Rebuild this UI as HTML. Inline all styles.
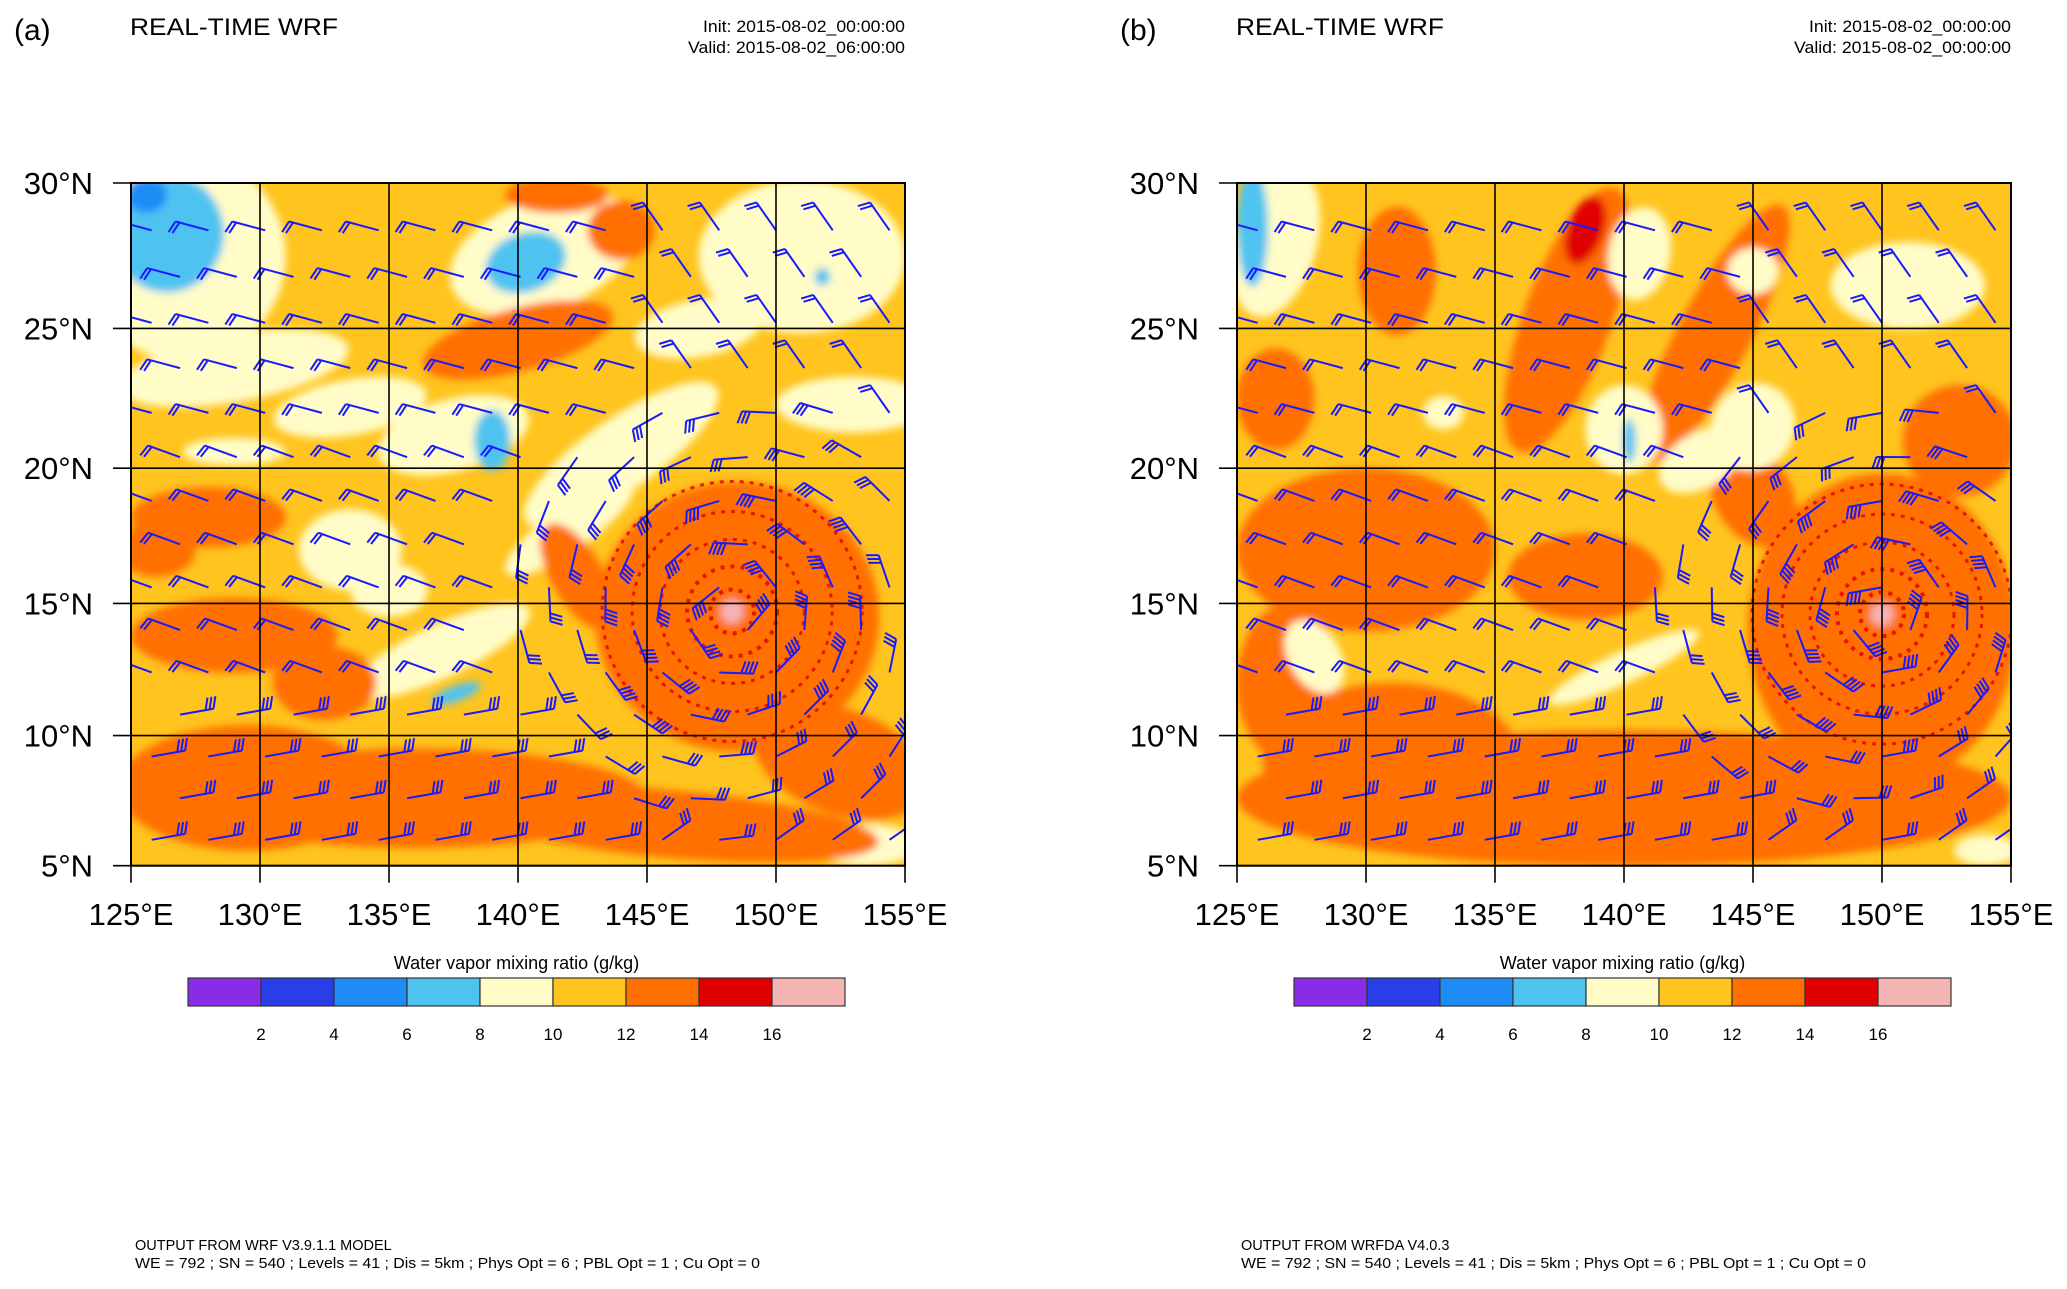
<!DOCTYPE html>
<html><head><meta charset="utf-8"><style>
html,body{margin:0;padding:0;background:#fff;}
svg{display:block;font-family:"Liberation Sans",sans-serif;}
</style></head><body>
<svg id="fig" width="2067" height="1289" viewBox="0 0 2067 1289" xmlns="http://www.w3.org/2000/svg">
<defs>
<filter id="blur" x="-10%" y="-10%" width="120%" height="120%"><feGaussianBlur stdDeviation="4"/></filter>
<clipPath id="clipA"><rect x="131" y="183" width="774" height="683"/></clipPath>
<clipPath id="clipB"><rect x="1237" y="183" width="774" height="683"/></clipPath>
</defs>
</svg>
<script>
const NS='http://www.w3.org/2000/svg';
const svg=document.getElementById('fig');
// colour levels (g/kg)
const levelLabels=['2','4','6','8','10','12','14','16'];
const levelColors=['#8a2be8','#2a3ee8','#1e8cf5','#4fc3f0','#fffcc8','#ffc41e','#ff7000','#e00000','#f5b4b4'];
const lonTicks=[125,130,135,140,145,150,155];
const latTicks=[5,10,15,20,25,30];
// field features: [lon, lat, rxDeg, ryDeg, rotation, levelIndex]
const blobsA=[
[127,27.5,4,3.5,0,4],[129,23.6,4.5,1.2,-10,4],[133.5,22.2,3,1,-10,4],[129,20.6,2,0.5,0,4],[137.5,21.2,3,1.3,-15,4],
[141,27.6,3.8,1.9,-20,4],[144,20.5,4.5,1.3,-35,4],[142,17.8,3,0.8,-35,4],[137,13.2,3.8,1,-25,4],[133.5,17,2,1.5,0,4],
[151,27.5,4,2.6,0,4],[153,22.3,3,1,0,4],[147,25,2.5,1,-10,4],[153.5,5.8,2,0.8,0,4],[135,15.5,1.5,1,0,4],
[126.4,28.3,2.2,2,0,3],[140.3,27.3,1.6,1,-20,3],[139,21,0.7,1.1,0,3],[137.6,11.6,1,0.3,-20,3],[151.8,26.8,0.3,0.3,0,3],[125.6,29.6,0.8,0.6,0,2],
[140,24.6,3.8,1.1,-15,6],[141.5,29.6,2,0.6,0,6],[144,28.4,1.3,1,0,6],[128,18.2,3,1.1,0,6],[126,17,1.5,1,0,6],[129,13.8,4,1.4,0,6],
[132.5,12,2,1.4,0,6],[136,7.6,9,1.9,0,6],[129.5,8,5,2.4,0,6],[148.5,14.5,5.5,5,0,6],[152.5,9,3.5,2,20,6],[146,6.6,8,1.3,5,6],[142.3,16,1,2.2,-30,6],
[148.3,14.7,0.45,0.45,0,8]];
const blobsB=[
[137.8,25.3,1.7,4.8,20,6],[143.5,24.8,1.4,5,28,6],[131.2,27,1.5,2.2,0,6],[126.5,22.5,1.5,1.8,0,6],[130,17,5,3,0,6],[138.5,16,3,1.6,0,6],[140,7.6,15,2.6,0,6],
[150,14,5.2,5.8,0,6],[127,12,2,3,0,6],[153,21,2.2,2,0,6],[145,19,1.5,2,-30,6],[131,9,5,3,0,6],
[138.5,28.4,0.7,1.2,20,7],
[126.5,28,1.6,2.6,15,4],[140.6,27.6,1.2,1.6,10,4],[145,27,1,0.8,0,4],[140,21.4,1.5,1.6,0,4],[145,21.5,1.6,1.6,30,4],[151,26.5,3,1.5,0,4],
[133,22,0.8,0.6,0,4],[143,20.3,1.8,1,-30,4],[140,12.6,3.2,0.6,-25,4],[128,13,1,1.5,-30,4],[154,5.6,1.2,0.6,0,4],
[125.6,28.5,0.6,2,0,3],[140.2,21,0.25,0.8,0,3],[150,14.6,0.45,0.45,0,8]];
// cyclone centres [lon, lat]
const cycA=[148.3,14.7], cycB=[150,14.6];

function el(tag,attrs,parent){const e=document.createElementNS(NS,tag);for(const k in attrs)e.setAttribute(k,attrs[k]);(parent||svg).appendChild(e);return e;}
const PX=1478, TOP=183, W=774, M30=Math.log(Math.tan(Math.PI/4+30*Math.PI/360));
function merc(lat){return Math.log(Math.tan(Math.PI/4+lat*Math.PI/360));}
function makeProj(x0){return {x:lon=>x0+(lon-125)/30*W, y:lat=>TOP+(M30-merc(lat))*PX};}

function panel(x0,clip,blobs,cyc,letter,valid,footer1){
  const P=makeProj(x0);
  const H=P.y(5)-TOP;
  const g=el('g',{'clip-path':'url(#'+clip+')'});
  
  
  el('rect',{x:x0,y:TOP,width:W,height:H,fill:levelColors[5]},g);
  const fg=el('g',{filter:'url(#blur)'},g);
  blobs.forEach(b=>{
    const cx=P.x(b[0]),cy=P.y(b[1]),rx=b[2]*W/30,ry=Math.abs(P.y(b[1]+b[3])-P.y(b[1]));
    const e=el('ellipse',{cx:cx,cy:cy,rx:rx,ry:ry,transform:`rotate(${b[4]} ${cx} ${cy})`,fill:levelColors[b[5]]},fg);
    
    
  });
  const ccx=P.x(cyc[0]),ccy=P.y(cyc[1]);
  [22,45,72,100,130].forEach((r,i)=>{
    const c=el('circle',{cx:ccx,cy:ccy,r:r,fill:'none',stroke:'#e00000','stroke-width':i<2?4:3,'stroke-dasharray':'4 6',opacity:0.8},g);
    
    
  });
  for(let la=6;la<=29.5;la+=1.6){
    const row=Math.round((la-6)/1.6);
    for(let lo=125.8+(row%2)*1.1;lo<155;lo+=2.2){
      const bx=P.x(lo),by=P.y(la);
      const dx=bx-ccx,dy=by-ccy,d=Math.hypot(dx,dy);
      let ang,n;
      if(d<230){ang=Math.atan2(dy,dx)*180/Math.PI-100;n=3+(d<150?1:0);}
      else if(la<11){ang=-10-(lo>145?25:0);n=3;}
      else if(la>22){ang=195+(lo>145?40:0);n=2;}
      else {ang=200;n=2;}
      const bg=el('g',{transform:`translate(${bx} ${by}) rotate(${ang})`,stroke:'#1a1aff','stroke-width':2,fill:'none'},g);
      
      
      el('line',{x1:0,y1:0,x2:34,y2:0},bg);
      for(let k=0;k<n;k++){el('line',{x1:34-k*4,y1:0,x2:38-k*4,y2:-12},bg);}
    }
  }
  const grid=el('g',{stroke:'#000','stroke-width':1.6});
  
  
  lonTicks.forEach(l=>{el('line',{x1:P.x(l),y1:TOP,x2:P.x(l),y2:P.y(5)+17},grid);});
  latTicks.forEach(l=>{el('line',{x1:x0-18,y1:P.y(l),x2:x0+W,y2:P.y(l)},grid);});
  el('rect',{x:x0,y:TOP,width:W,height:H,fill:'none',stroke:'#000','stroke-width':2});
  latTicks.forEach(l=>{const t=el('text',{x:x0-38,y:P.y(l)+11,'text-anchor':'end','font-size':31,fill:'#000'});t.textContent=l+'°N';
    });
  lonTicks.forEach(l=>{const t=el('text',{x:P.x(l),y:925,'text-anchor':'middle','font-size':31,fill:'#000'});t.textContent=l+'°E';
    });
  const pl=el('text',{x:x0-117,y:40,'font-size':30,fill:'#000'});pl.textContent='('+letter+')';
  
  const ti=el('text',{x:x0-1,y:35,'font-size':24,fill:'#000',textLength:208,lengthAdjust:'spacingAndGlyphs'});ti.textContent='REAL-TIME WRF';
  
  const i1=el('text',{x:x0+W-202,y:32,'font-size':17,fill:'#000',textLength:202,lengthAdjust:'spacingAndGlyphs'});i1.textContent='Init: 2015-08-02_00:00:00';
  
  const i2=el('text',{x:x0+W-217,y:53,'font-size':17,fill:'#000',textLength:217,lengthAdjust:'spacingAndGlyphs'});i2.textContent='Valid: '+valid;
  
  const cb=el('g',{});
  
  
  const cbx=x0+57,bw=73;
  const ct=el('text',{x:cbx+4.5*bw,y:969,'text-anchor':'middle','font-size':18,fill:'#000'},cb);ct.textContent='Water vapor mixing ratio  (g/kg)';
  
  levelColors.forEach((c,i)=>{const r=el('rect',{x:cbx+i*bw,y:978,width:bw,height:28,fill:c,stroke:'#333','stroke-width':1.2},cb);
    });
  levelLabels.forEach((s,i)=>{const t=el('text',{x:cbx+(i+1)*bw,y:1040,'text-anchor':'middle','font-size':17,fill:'#000'},cb);t.textContent=s;
    });
  const f1=el('text',{x:x0+4,y:1250,'font-size':14.5,fill:'#000'});f1.textContent=footer1;
  
  const f2=el('text',{x:x0+4,y:1268,'font-size':14.5,fill:'#000',textLength:625,lengthAdjust:'spacingAndGlyphs'});
  f2.textContent='WE = 792 ; SN = 540 ; Levels = 41 ; Dis = 5km ; Phys Opt = 6 ; PBL Opt = 1 ; Cu Opt = 0';
  
}
panel(131,'clipA',blobsA,cycA,'a','2015-08-02_06:00:00','OUTPUT FROM WRF V3.9.1.1 MODEL');
panel(1237,'clipB',blobsB,cycB,'b','2015-08-02_00:00:00','OUTPUT FROM WRFDA V4.0.3');
</script>
</body></html>
